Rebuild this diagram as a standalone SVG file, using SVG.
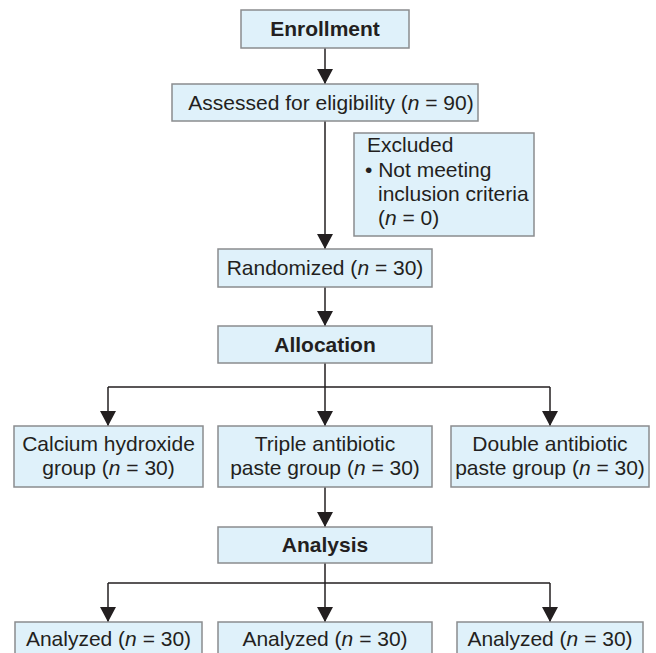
<svg xmlns="http://www.w3.org/2000/svg" width="656" height="653" viewBox="0 0 656 653">
<style>
.box{fill:#dff1fa;stroke:#8a8c8e;stroke-width:1.5}
.t{font-family:"Liberation Sans",Arial,sans-serif;font-size:21px;fill:#231f20}
.c{text-anchor:middle}
.b{font-weight:bold}
.i{font-style:italic}
.ln{fill:none;stroke:#231f20;stroke-width:1.5}
</style>
<defs>
<marker id="ah" viewBox="0 0 15 16" refX="15" refY="8" markerWidth="15" markerHeight="16" markerUnits="userSpaceOnUse" orient="auto">
<path d="M0,0 L15,8 L0,16 Z" fill="#231f20"/>
</marker>
</defs>
<rect width="656" height="653" fill="#ffffff"/>
<g id="connectors">
<path class="ln" d="M325 48 V84" marker-end="url(#ah)"/>
<path class="ln" d="M325 121 V249" marker-end="url(#ah)"/>
<path class="ln" d="M325 287 V326" marker-end="url(#ah)"/>
<path class="ln" d="M325 363 V387 M108 387 H550"/>
<path class="ln" d="M108 387 V426" marker-end="url(#ah)"/>
<path class="ln" d="M325 387 V426" marker-end="url(#ah)"/>
<path class="ln" d="M550 387 V426" marker-end="url(#ah)"/>
<path class="ln" d="M325 487 V527" marker-end="url(#ah)"/>
<path class="ln" d="M325 563 V583 M108 583 H550"/>
<path class="ln" d="M108 583 V622" marker-end="url(#ah)"/>
<path class="ln" d="M325 583 V622" marker-end="url(#ah)"/>
<path class="ln" d="M550 583 V622" marker-end="url(#ah)"/>
</g>
<g id="enrollment">
<rect class="box" x="241" y="10" width="168" height="38"/>
<text class="t c b" x="325" y="36">Enrollment</text>
</g>
<g id="assessed">
<rect class="box" x="172" y="84" width="306" height="37"/>
<text class="t c" x="331" y="110">Assessed for eligibility (<tspan class="i">n</tspan> = 90)</text>
</g>
<g id="excluded">
<rect class="box" x="354" y="133" width="180" height="103"/>
<text class="t" x="367" y="152">Excluded</text>
<text class="t" x="365" y="177">• Not meeting</text>
<text class="t" x="378" y="201">inclusion criteria</text>
<text class="t" x="378" y="225">(<tspan class="i">n</tspan> = 0)</text>
</g>
<g id="randomized">
<rect class="box" x="218" y="249" width="214" height="38"/>
<text class="t c" x="325" y="275">Randomized (<tspan class="i">n</tspan> = 30)</text>
</g>
<g id="allocation">
<rect class="box" x="218" y="326" width="214" height="37"/>
<text class="t c b" x="325" y="352">Allocation</text>
</g>
<g id="calcium">
<rect class="box" x="14" y="426" width="189" height="61"/>
<text class="t c" x="108.5" y="451">Calcium hydroxide</text>
<text class="t c" x="108.5" y="475">group (<tspan class="i">n</tspan> = 30)</text>
</g>
<g id="triple">
<rect class="box" x="218" y="426" width="214" height="61"/>
<text class="t c" x="325" y="451">Triple antibiotic</text>
<text class="t c" x="325" y="475">paste group (<tspan class="i">n</tspan> = 30)</text>
</g>
<g id="double">
<rect class="box" x="451" y="426" width="198" height="61"/>
<text class="t c" x="550" y="451">Double antibiotic</text>
<text class="t c" x="550" y="475">paste group (<tspan class="i">n</tspan> = 30)</text>
</g>
<g id="analysis">
<rect class="box" x="218" y="527" width="214" height="36"/>
<text class="t c b" x="325" y="552">Analysis</text>
</g>
<g id="analyzed1">
<rect class="box" x="15" y="622" width="187" height="50"/>
<text class="t c" x="108.5" y="646">Analyzed (<tspan class="i">n</tspan> = 30)</text>
</g>
<g id="analyzed2">
<rect class="box" x="218" y="622" width="214" height="50"/>
<text class="t c" x="325" y="646">Analyzed (<tspan class="i">n</tspan> = 30)</text>
</g>
<g id="analyzed3">
<rect class="box" x="457" y="622" width="186" height="50"/>
<text class="t c" x="550" y="646">Analyzed (<tspan class="i">n</tspan> = 30)</text>
</g>
</svg>
